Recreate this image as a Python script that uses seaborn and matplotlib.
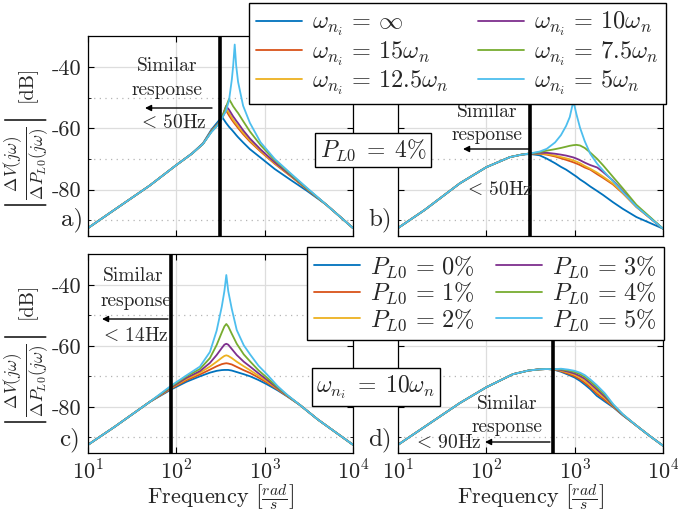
import matplotlib.pyplot as plt
import pandas as pd
import seaborn as sns
from matplotlib.lines import Line2D
from matplotlib.patches import FancyArrowPatch
from matplotlib.ticker import LogLocator, NullFormatter

# MATLAB default line colours
COLORS = ["#0072BD", "#D95319", "#EDB120", "#7E2F8E", "#77AC30", "#4DBEEE"]
W, H = 678, 520

WNI_LABELS = [r"$\omega_{n_i}\,=\,\infty$", r"$\omega_{n_i}\,=\,15\omega_n$",
              r"$\omega_{n_i}\,=\,12.5\omega_n$", r"$\omega_{n_i}\,=\,10\omega_n$",
              r"$\omega_{n_i}\,=\,7.5\omega_n$", r"$\omega_{n_i}\,=\,5\omega_n$"]
PL0_LABELS = [r"$P_{L0}\,=\,0\%$", r"$P_{L0}\,=\,1\%$", r"$P_{L0}\,=\,2\%$",
              r"$P_{L0}\,=\,3\%$", r"$P_{L0}\,=\,4\%$", r"$P_{L0}\,=\,5\%$"]

# ---- panel a) : P_L0 = 4 %, varying w_ni (dB)
freq_a = [10, 20, 50, 100, 150, 200, 250, 300, 330, 365, 395, 425, 440, 458, 476,
          500, 570, 680, 900, 1300, 2000, 3000, 5000, 10000]
a_low = [-92.6, -86.6, -78.7, -72.0, -68.3, -65.1]
a_inf = [-92.6, -86.6, -78.7, -72.0, -68.2, -64.9, -60.4, -57.6, -56.3, -58.2, -59.5, -60.5,
         -61.0, -61.6, -62.2, -62.9, -64.6, -66.8, -69.6, -73.3, -77.0, -80.4, -85.0, -92.6]
a_15 = a_low + [-60.8, -58.3, -56.6, -54.1, -55.8, -57.2, -57.8, -58.5, -59.1, -59.9,
                -61.9, -64.3, -67.6, -71.6, -75.8, -79.9, -85.0, -92.6]
a_125 = a_low + [-60.9, -58.4, -56.5, -53.5, -55.0, -56.5, -57.2, -57.9, -58.5, -59.3,
                 -61.4, -63.9, -67.3, -71.4, -75.7, -79.8, -85.0, -92.6]
a_10 = a_low + [-61.0, -58.5, -56.3, -52.7, -53.9, -55.4, -56.1, -56.8, -57.5, -58.3,
                -60.6, -63.3, -66.9, -71.1, -75.5, -79.7, -85.0, -92.6]
a_75 = a_low + [-61.1, -58.6, -56.2, -53.0, -50.4, -52.0, -52.8, -53.5, -54.2, -55.0,
                -57.6, -61.0, -65.5, -70.4, -75.2, -79.6, -85.0, -92.6]
a_5 = a_low + [-61.2, -58.7, -56.6, -54.3, -50.8, -44.0, -39.5, -32.6, -39.5, -44.8,
               -52.6, -58.2, -64.6, -70.0, -74.9, -79.4, -85.0, -92.6]

# ---- panel b) : P_L0 = 4 %, varying w_ni
freq_b = [10, 20, 50, 100, 185, 250, 314, 400, 483, 600, 700, 800, 880, 966, 1050,
          1150, 1300, 1500, 1800, 2100, 2700, 3500, 5000, 10000]
b_low = [-92.6, -86.7, -78.0, -72.7, -69.4, -68.6, -68.2]
b_inf = [-92.6, -86.7, -78.0, -72.7, -69.4, -68.6, -68.4, -68.8, -69.9, -71.4, -72.6, -73.5,
         -74.3, -75.1, -75.8, -76.7, -77.7, -79.0, -80.5, -81.8, -84.1, -86.3, -89.0, -92.8]
b_15 = b_low + [-68.3, -68.6, -69.2, -69.8, -70.3, -70.7, -71.1, -71.5, -72.0, -72.8,
                -73.5, -75.0, -76.2, -78.3, -81.2, -85.7, -92.8]
b_125 = b_low + [-68.2, -68.4, -68.9, -69.4, -69.8, -70.1, -70.5, -70.9, -71.4, -72.3,
                 -73.2, -74.5, -75.8, -78.0, -81.0, -85.7, -92.8]
b_10 = b_low + [-68.0, -68.0, -68.3, -68.6, -68.9, -69.2, -69.5, -69.9, -70.4, -71.2,
                -72.0, -72.8, -74.3, -77.0, -80.5, -85.5, -92.8]
b_75 = b_low + [-67.8, -67.3, -66.8, -66.4, -66.0, -65.7, -65.5, -65.4, -65.6, -66.4,
                -67.9, -70.0, -72.1, -75.8, -79.6, -85.0, -92.8]
b_5 = b_low + [-67.6, -66.7, -64.6, -62.2, -59.2, -56.3, -51.1, -55.5, -59.8, -64.2,
               -68.3, -71.6, -73.8, -77.2, -80.8, -85.6, -92.8]

# ---- panel c) : w_ni = 10 w_n, varying P_L0
freq_c = [10, 20, 50, 89, 130, 185, 240, 286, 327, 350, 368, 387, 424, 483, 580, 684,
          850, 1057, 1400, 1800, 2500, 4000, 6500, 10000]
c_low = [-92.5, -86.6, -78.4]
c_high = [-79.4, -84.2, -88.6, -92.5]
c_0 = c_low + [-74.2, -71.8, -70.0, -68.8, -68.2, -67.95, -67.9, -67.9, -67.9, -68.1, -68.6,
               -69.3, -70.0, -71.2, -72.6, -74.6, -76.6] + c_high
c_1 = c_low + [-73.9, -71.3, -69.4, -67.8, -66.7, -66.0, -65.8, -65.7, -65.8, -66.1, -66.9,
               -68.0, -68.9, -70.4, -72.0, -74.3, -76.5] + c_high
c_2 = c_low + [-73.7, -70.9, -68.8, -66.8, -65.2, -63.9, -63.3, -63.1, -63.3, -64.0, -65.2,
               -66.7, -68.0, -69.8, -71.6, -74.1, -76.4] + c_high
c_3 = c_low + [-73.5, -70.5, -68.3, -65.6, -63.0, -60.7, -59.6, -59.3, -59.6, -61.0, -63.0,
               -65.2, -66.8, -69.0, -71.1, -73.9, -76.3] + c_high
c_4 = c_low + [-73.2, -70.0, -67.6, -64.0, -59.7, -55.6, -53.6, -52.8, -53.6, -56.0, -59.3,
               -62.8, -65.1, -68.0, -70.4, -73.6, -76.2] + c_high
c_5 = c_low + [-72.9, -69.7, -66.8, -62.0, -55.0, -47.1, -42.0, -36.7, -42.0, -47.8, -54.8,
               -59.8, -62.8, -66.5, -69.3, -73.2, -76.1] + c_high

# ---- panel d) : w_ni = 10 w_n, varying P_L0
freq_d = [10, 20, 50, 100, 200, 300, 400, 483, 565, 700, 850, 1000, 1150, 1300, 1500,
          1780, 2200, 2740, 3500, 5000, 7000, 10000]
d_low = [-92.5, -86.6, -78.8, -73.6, -69.3, -68.1, -67.7, -67.6, -67.7]
d_high = [-86.2, -89.5, -92.8]
d_0 = d_low + [-68.5, -69.5, -70.4, -71.5, -72.7, -74.2, -76.4, -78.3, -80.2, -82.8] + d_high
d_1 = d_low + [-68.3, -69.2, -70.0, -71.0, -72.1, -73.6, -75.7, -77.8, -80.0, -82.7] + d_high
d_2 = d_low + [-68.1, -68.8, -69.5, -70.4, -71.5, -72.9, -75.0, -77.2, -79.8, -82.6] + d_high
d_3 = d_low + [-67.9, -68.5, -69.1, -69.9, -70.8, -72.3, -74.3, -76.7, -79.6, -82.6] + d_high
d_4 = d_low + [-67.7, -68.1, -68.6, -69.3, -70.2, -71.6, -73.6, -76.1, -79.4, -82.5] + d_high
d_5 = d_low + [-67.5, -67.8, -68.2, -68.8, -69.6, -71.0, -72.9, -75.6, -79.2, -82.4] + d_high

# "similar response" limits, rad/s (50 Hz, 50 Hz, 14 Hz, 90 Hz)
LIMITS = [314, 314, 88, 565]


def frame(freq, curves, labels):
    parts = [pd.DataFrame({"freq": freq, "dB": vals, "curve": lab})
             for lab, vals in zip(labels, curves)]
    return pd.concat(parts, ignore_index=True)


def fx(x):
    return x / W


def fy(y):
    return 1 - y / H


def style_axes(ax, show_x, show_y):
    ax.set_xscale("log")
    ax.set_xlim(10, 1e4)
    ax.set_ylim(-95.2, -29.8)
    ax.set_xticks([10, 100, 1000, 10000])
    ax.xaxis.set_minor_locator(LogLocator(base=10, subs=range(2, 10)))
    ax.xaxis.set_minor_formatter(NullFormatter())
    ax.set_yticks([-80, -60, -40])
    ax.set_yticks([-90, -70, -50], minor=True)
    if show_x:
        ax.set_xticklabels([r"$10^{1}$", r"$10^{2}$", r"$10^{3}$", r"$10^{4}$"])
    else:
        ax.set_xticklabels([])
    if show_y:
        ax.set_yticklabels(["-80", "-60", "-40"])
    else:
        ax.set_yticklabels([])
    ax.grid(which="major", color="#dddddd", lw=0.9, ls="-")
    ax.grid(which="minor", color="#b5b5b5", lw=0.9, ls=(0, (1, 3.5)))
    ax.tick_params(which="both", direction="in", top=True, right=True,
                   labelsize=16, color="k", pad=5)
    ax.tick_params(which="major", length=4)
    ax.tick_params(which="minor", length=2)
    for sp in ax.spines.values():
        sp.set_color("k")
        sp.set_linewidth(0.9)
    ax.set_xlabel("")
    ax.set_ylabel("")


def main():
    sns.set_style("ticks")
    plt.rcParams["font.family"] = ["cmr10"]
    plt.rcParams["mathtext.fontset"] = "cm"
    plt.rcParams["axes.unicode_minus"] = False
    plt.rcParams["axes.formatter.use_mathtext"] = True

    fig = plt.figure(figsize=(W / 100, H / 100), dpi=100)
    boxes = {"a": (88, 36, 265, 200), "b": (398, 36, 265, 200),
             "c": (88, 254, 265, 199), "d": (398, 254, 265, 199)}
    axes = {k: fig.add_axes([fx(x), fy(y + h), w / W, h / H]) for k, (x, y, w, h) in boxes.items()}

    panels = {
        "a": frame(freq_a, [a_inf, a_15, a_125, a_10, a_75, a_5], WNI_LABELS),
        "b": frame(freq_b, [b_inf, b_15, b_125, b_10, b_75, b_5], WNI_LABELS),
        "c": frame(freq_c, [c_0, c_1, c_2, c_3, c_4, c_5], PL0_LABELS),
        "d": frame(freq_d, [d_0, d_1, d_2, d_3, d_4, d_5], PL0_LABELS),
    }
    orders = {"a": WNI_LABELS, "b": WNI_LABELS, "c": PL0_LABELS, "d": PL0_LABELS}

    for (key, ax), lim in zip(axes.items(), LIMITS):
        sns.lineplot(data=panels[key], x="freq", y="dB", hue="curve", hue_order=orders[key],
                     palette=COLORS, estimator=None, legend=False, linewidth=1.3, ax=ax)
        ax.axvline(lim, color="k", lw=2.6, zorder=4)
        style_axes(ax, show_x=key in "cd", show_y=key in "ac")

    # y labels: fraction and unit as two rotated pieces
    frac = r"$\left|\frac{\Delta V(j\omega)}{\Delta P_{L0}(j\omega)}\right|$"
    for dy in (0, 217):
        fig.text(fx(27), fy(164 + dy), frac, rotation=90, ha="center", va="center", fontsize=17.5)
        fig.text(fx(27), fy(84 + dy), "[dB]", rotation=90, ha="center", va="center", fontsize=14.5)
    # x labels
    for xc in (220, 530):
        fig.text(fx(xc), fy(497), r"Frequency $\left[\frac{rad}{s}\right]$",
                 ha="center", va="center", fontsize=16)

    # panel letters
    for lab, (x, y) in zip(["a)", "b)", "c)", "d)"], [(72, 220), (380, 220), (70, 440), (380, 440)]):
        fig.text(fx(x), fy(y), lab, ha="center", va="center", fontsize=18)

    # "similar response" notes with arrows
    notes = [
        ((167, 66), (167, 90), (212, 145, 108), (172, 123), r"$<\,$50Hz"),
        ((487, 112), (487, 135), (530, 463, 149), (498, 190), r"$<\,$50Hz"),
        ((133, 276), (136, 301), (168, 102, 319), (134, 336), r"$<\,$14Hz"),
        ((507, 404), (507, 427), (550, 485, 442), (447, 443), r"$<\,$90Hz"),
    ]
    for (s_xy, r_xy, (x0, x1, ya), l_xy, lim_txt) in notes:
        fig.text(fx(s_xy[0]), fy(s_xy[1]), "Similar", ha="center", va="center", fontsize=14)
        fig.text(fx(r_xy[0]), fy(r_xy[1]), "response", ha="center", va="center", fontsize=14)
        fig.text(fx(l_xy[0]), fy(l_xy[1]), lim_txt, ha="center", va="center", fontsize=14)
        fig.add_artist(FancyArrowPatch((fx(x0), fy(ya)), (fx(x1), fy(ya)),
                                       transform=fig.transFigure, arrowstyle="-|>",
                                       mutation_scale=9, color="k", lw=1.0,
                                       shrinkA=0, shrinkB=0, zorder=6))

    # boxed parameter labels
    box = dict(boxstyle="square,pad=0.2", fc="white", ec="k", lw=1.0)
    fig.text(fx(373), fy(150), r"$P_{L0}\;=\;4\%$", ha="center", va="center",
             fontsize=17, bbox=box)
    fig.text(fx(376), fy(387), r"$\omega_{n_i}\;=\;10\omega_n$", ha="center", va="center",
             fontsize=17, bbox=box)

    # legends
    handles = [Line2D([], [], color=c, lw=1.3) for c in COLORS]
    for labels, (x, y), colsp in ((WNI_LABELS, (249, 3), 1.2), (PL0_LABELS, (307, 247), 0.85)):
        leg = fig.legend(handles, labels, ncol=2, loc="upper left",
                         bbox_to_anchor=(fx(x), fy(y)), fontsize=17.5, frameon=True,
                         fancybox=False, framealpha=1, edgecolor="k", borderpad=0.3,
                         labelspacing=0.05, handlelength=1.9, handletextpad=0.4,
                         columnspacing=colsp, borderaxespad=0)
        leg.get_frame().set_linewidth(1.0)

    fig.savefig("out.png", dpi=100)


if __name__ == "__main__":
    main()
